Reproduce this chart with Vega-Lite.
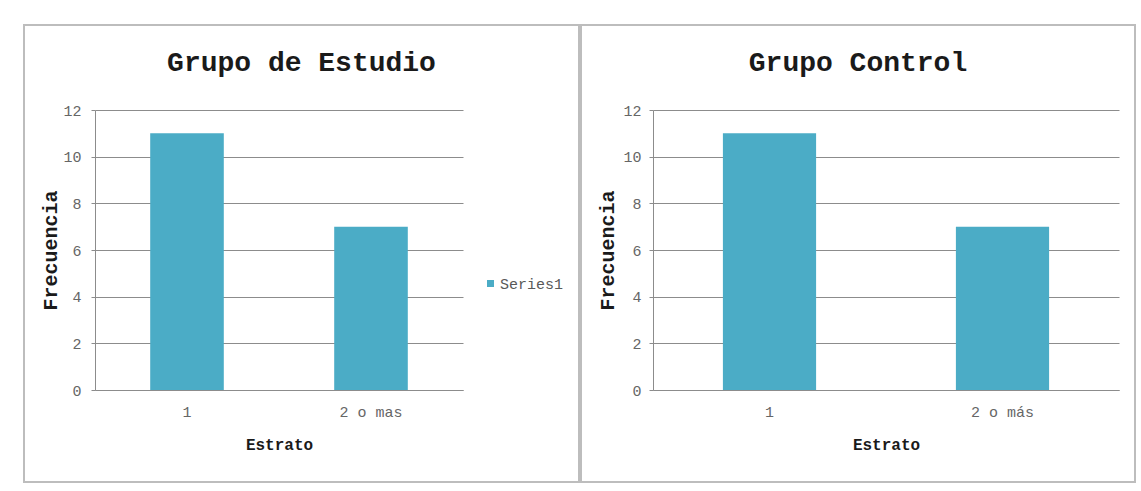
{
  "$schema": "https://vega.github.io/schema/vega-lite/v6.json",
  "padding": {"left": 23, "top": 24, "right": 0, "bottom": 0},
  "background": "white",
  "data": {
    "values": [
      {"grupo": "Estudio", "estrato": "1", "frecuencia": 11, "serie": "Series1"},
      {"grupo": "Estudio", "estrato": "2 o mas", "frecuencia": 7, "serie": "Series1"},
      {"grupo": "Control", "estrato": "1", "frecuencia": 11, "serie": "Series1"},
      {"grupo": "Control", "estrato": "2 o más", "frecuencia": 7, "serie": "Series1"}
    ]
  },
  "spacing": 0,
  "resolve": {"scale": {"color": "independent"}},
  "config": {
    "font": "Liberation Mono",
    "view": {"stroke": "#bdbdbd", "strokeWidth": 2},
    "bar": {"color": "#4BACC6"},
    "axis": {
      "labelFont": "Liberation Mono",
      "labelFontSize": 15,
      "labelColor": "#666666",
      "titleFont": "Liberation Mono",
      "titleFontWeight": "bold",
      "titleColor": "#1a1a1a",
      "domainColor": "#8c8c8c",
      "tickColor": "#8c8c8c",
      "gridColor": "#8c8c8c",
      "gridWidth": 1
    },
    "title": {
      "font": "Liberation Mono",
      "fontSize": 28,
      "fontWeight": "bold",
      "color": "#1a1a1a",
      "anchor": "middle",
      "frame": "group",
      "offset": -52,
      "baseline": "alphabetic"
    }
  },
  "hconcat": [
    {
      "width": 555,
      "height": 457,
      "title": {"text": "Grupo de Estudio"},
      "transform": [{"filter": "datum.grupo === 'Estudio'"}],
      "mark": {"type": "bar"},
      "encoding": {
        "x": {
          "field": "estrato",
          "type": "nominal",
          "sort": null,
          "scale": {"range": [71, 439], "paddingInner": 0.6, "paddingOuter": 0.3},
          "axis": {
            "title": "Estrato",
            "titleFontSize": 16,
            "titleY": 54,
            "titleBaseline": "middle",
            "offset": -92,
            "labelAngle": 0,
            "ticks": false,
            "tickSize": 0,
            "labelPadding": 14,
            "grid": false
          }
        },
        "y": {
          "field": "frecuencia",
          "type": "quantitative",
          "scale": {"domain": [0, 12], "range": [365, 85]},
          "axis": {
            "title": "Frecuencia",
            "titleFontSize": 20,
            "titleX": -45,
            "titleBaseline": "middle",
            "offset": -71,
            "values": [0, 2, 4, 6, 8, 10, 12],
            "tickSize": 4,
            "labelPadding": 10,
            "grid": true
          }
        },
        "color": {
          "field": "serie",
          "type": "nominal",
          "scale": {"range": ["#4BACC6"]},
          "legend": {
            "title": null,
            "orient": "none",
            "legendX": 459,
            "legendY": 251,
            "padding": 0,
            "symbolType": "square",
            "symbolSize": 49,
            "symbolStrokeWidth": 0,
            "labelFont": "Liberation Mono",
            "labelFontSize": 15,
            "labelColor": "#595959",
            "labelOffset": 2
          }
        }
      }
    },
    {
      "width": 554,
      "height": 457,
      "title": {"text": "Grupo Control"},
      "transform": [{"filter": "datum.grupo === 'Control'"}],
      "mark": {"type": "bar"},
      "encoding": {
        "x": {
          "field": "estrato",
          "type": "nominal",
          "sort": null,
          "scale": {"range": [72, 538], "paddingInner": 0.6, "paddingOuter": 0.3},
          "axis": {
            "title": "Estrato",
            "titleFontSize": 16,
            "titleY": 54,
            "titleBaseline": "middle",
            "offset": -92,
            "labelAngle": 0,
            "ticks": false,
            "tickSize": 0,
            "labelPadding": 14,
            "grid": false
          }
        },
        "y": {
          "field": "frecuencia",
          "type": "quantitative",
          "scale": {"domain": [0, 12], "range": [365, 85]},
          "axis": {
            "title": "Frecuencia",
            "titleFontSize": 20,
            "titleX": -46,
            "titleBaseline": "middle",
            "offset": -72,
            "values": [0, 2, 4, 6, 8, 10, 12],
            "tickSize": 4,
            "labelPadding": 8,
            "grid": true
          }
        },
        "color": {
          "field": "serie",
          "type": "nominal",
          "scale": {"range": ["#4BACC6"]},
          "legend": null
        }
      }
    }
  ]
}
